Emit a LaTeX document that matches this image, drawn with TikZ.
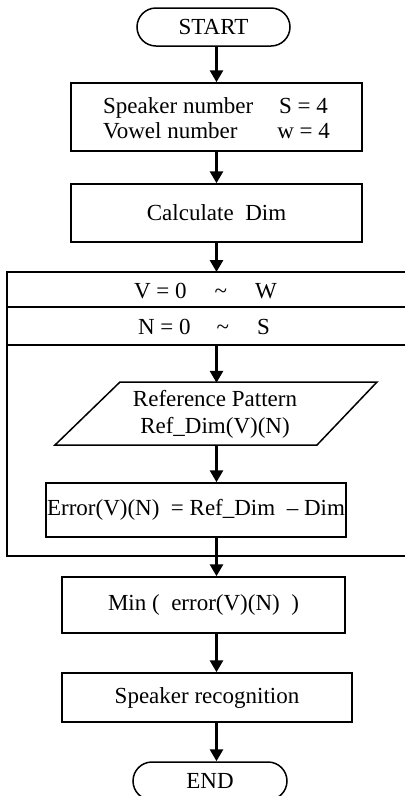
\documentclass[tikz,border=0pt]{standalone}
\usepackage{fontspec}
\setmainfont{Liberation Serif}
\usetikzlibrary{arrows.meta}
\tikzset{
  base/.style={font=\fontsize{23}{25}\selectfont, inner sep=0pt, align=center},
  procbox/.style={base, draw, line width=1.5pt, rectangle},
  term/.style={base, draw, line width=1.5pt, rounded corners=19pt, minimum width=153pt, minimum height=38pt},
  arr/.style={line width=2.8pt, -{Triangle[length=12pt,width=13pt]}},
  loopline/.style={line width=1.4pt},
  paraline/.style={line width=1.5pt, line join=miter},
}
\begin{document}
\begin{tikzpicture}[x=1pt,y=-1pt]
\useasboundingbox (0,0) rectangle (405,796);
\coordinate (spine) at (216.5,0);

\node[term] (start) at (213.5,27) {START};
\node[procbox, minimum width=291pt, minimum height=68pt] (b1) at (216.5,117)
  {\raisebox{-4pt}[\height][\depth]{\begin{tabular}{@{}l@{\hspace{24pt}}c@{}}Speaker number & S = 4\\ Vowel number & w = 4\end{tabular}}};
\node[procbox, minimum width=291pt, minimum height=58pt] (b2) at (216.5,213) {Calculate\ \ Dim};

% loop frame
\draw[loopline] (405,272) -- (7,272) -- (7,556) -- (405,556);
\draw[loopline] (7,307) -- (405,307);
\draw[loopline] (7,345) -- (405,345);
\coordinate (looptop) at (216.5,272);
\coordinate (loopin) at (216.5,345);
\node[base] (hdrV) at (205.5,291) {V = 0\hspace{28pt}\char"7E\hspace{28pt}W};
\node[base] (hdrN) at (204,327) {N = 0\hspace{26pt}\char"7E\hspace{28pt}S};

% parallelogram
\draw[paraline] (120,382) -- (377,382) -- (317,445) -- (55,445) -- cycle;
\node[base, font=\fontsize{23}{27}\selectfont, minimum height=63pt] (para) at (215,414.5)
  {Reference Pattern\\Ref\_Dim(V)(N)};

\node[procbox, minimum width=300pt, minimum height=54pt] (b3) at (196,510)
  {Error(V)(N)\ \ = Ref\_Dim\ \ – Dim};
\node[procbox, minimum width=283pt, minimum height=56pt] (b4) at (203.5,605)
  {Min (\ \ error(V)(N)\ \ )};
\node[procbox, minimum width=290pt, minimum height=49pt] (b5) at (207,697.5)
  {Speaker recognition};
\node[term, minimum width=154pt] (end) at (210,781) {END};

\draw[arr] (start.south -| spine) -- (b1.north -| spine);
\draw[arr] (b1.south -| spine) -- (b2.north -| spine);
\draw[arr] (b2.south -| spine) -- (looptop);
\draw[arr] (loopin) -- (para.north -| spine);
\draw[arr] (para.south -| spine) -- (b3.north -| spine);
\draw[arr] (b3.south -| spine) -- (b4.north -| spine);
\draw[arr] (b4.south -| spine) -- (b5.north -| spine);
\draw[arr] (b5.south -| spine) -- (end.north -| spine);
\end{tikzpicture}
\end{document}
